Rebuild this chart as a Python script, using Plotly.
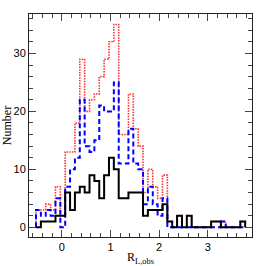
import numpy as np
import plotly.graph_objects as go

# Histogram bins (left edge of first bin, bin width)
bin_start = -0.53
bin_width = 0.1

# Counts per bin
black_counts = [0, 1, 1, 1, 2, 2, 6, 3, 6, 7, 6, 9, 8, 5, 9, 12, 10, 5, 5, 6, 6,
                6, 2, 3, 3, 3, 4, 1, 0, 2, 0, 2, 0, 0, 0, 0, 1, 1, 0, 0, 0, 0, 1]
blue_counts = [3, 2, 3, 2, 5, 0, 7, 10, 12, 22, 14, 13, 15, 21, 20, 20, 25, 11, 11, 17, 11,
               10, 4, 7, 4, 2, 5, 0, 0, 0, 0, 0, 0, 0, 0, 0, 0, 0, 1, 0, 0, 0, 0]
red_counts = [3, 3, 4, 3, 7, 2, 13, 13, 18, 29, 20, 22, 23, 26, 29, 32, 35, 16, 16, 23, 17,
              14, 6, 10, 7, 5, 9, 1, 0, 2, 0, 2, 0, 0, 0, 0, 1, 1, 1, 0, 0, 0, 1]

x_ticks = [0, 1, 2, 3]
y_ticks = [0, 10, 20, 30]


def outline(counts):
    edges = bin_start + bin_width * np.arange(len(counts) + 1)
    xs = [edges[0]]
    ys = [0]
    for i, c in enumerate(counts):
        xs += [edges[i], edges[i + 1]]
        ys += [c, c]
    xs.append(edges[-1])
    ys.append(0)
    return xs, ys


fig = go.Figure()
for counts, color, dash, width in [
    (red_counts, "#ff3030", "1.5px,1.2px", 1.6),
    (blue_counts, "#0000ff", "5px,3px", 2),
    (black_counts, "#000000", "solid", 2),
]:
    xs, ys = outline(counts)
    fig.add_trace(go.Scatter(x=xs, y=ys, mode="lines",
                             line=dict(color=color, dash=dash, width=width),
                             hoverinfo="skip"))

axis_common = dict(
    showline=True, linecolor="#222", linewidth=1, mirror="allticks",
    ticks="inside", ticklen=7, tickwidth=1, tickcolor="#444",
    showgrid=False, zeroline=False, automargin=False,
    tickfont=dict(family="Liberation Sans", size=11, color="black"),
)

fig.update_layout(
    width=266, height=266,
    margin=dict(l=29, r=14, t=14, b=29),
    plot_bgcolor="white", paper_bgcolor="white",
    showlegend=False,
    xaxis=dict(range=[-0.674, 3.91], tickvals=x_ticks,
               minor=dict(dtick=0.2, tick0=0, ticks="inside", ticklen=4,
                          tickcolor="#444", tickwidth=1),
               title=dict(text="R<sub>L,obs</sub>",
                          font=dict(family="Liberation Serif", size=12, color="black")),
               **axis_common),
    yaxis=dict(range=[-1.67, 36.8], tickvals=y_ticks,
               minor=dict(dtick=2, tick0=0, ticks="inside", ticklen=4,
                          tickcolor="#444", tickwidth=1),
               title=dict(text="Number",
                          font=dict(family="Liberation Serif", size=12, color="black")),
               **axis_common),
)

fig.write_html("out.html", config={"displayModeBar": False},
               post_script="document.body.style.margin='0';document.body.style.overflow='hidden';")
